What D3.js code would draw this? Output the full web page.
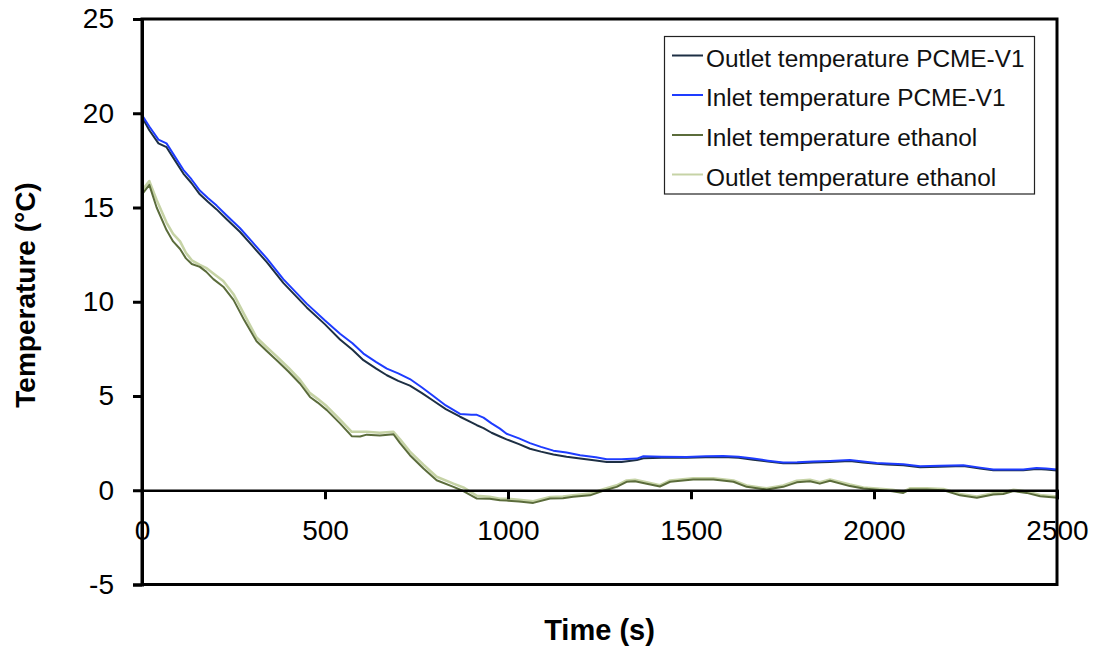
<!DOCTYPE html>
<html>
<head>
<meta charset="utf-8">
<script src="https://cdn.jsdelivr.net/npm/d3@7"></script>
<style>
  html, body { margin: 0; padding: 0; background: #fff; }
  svg { display: block; font-family: "Liberation Sans", Arial, sans-serif; }
</style>
</head>
<body>
<svg id="chart" width="1095" height="648"></svg>
<script>
// Sample times (s) for the PCME-V1 channels
const timePCME = [0, 20, 45, 67, 90, 113, 135, 158, 180, 204, 230, 268, 300, 341, 386, 450, 500, 541, 575, 605,
  640, 669, 700, 732, 765, 796, 830, 869, 900, 915, 933, 955, 978, 996, 1030, 1060, 1090, 1124, 1160, 1197,
  1240, 1270, 1310, 1352, 1370, 1420, 1488, 1540, 1588, 1630, 1670, 1710, 1752, 1790, 1834, 1880, 1934, 1970,
  2007, 2035, 2080, 2126, 2180, 2244, 2290, 2326, 2370, 2408, 2444, 2470, 2500];

const outletPCME = [19.8, 19.1, 18.4, 18.2, 17.5, 16.8, 16.3, 15.7, 15.3, 14.9, 14.4, 13.7, 13.0, 12.1, 11.0, 9.7, 8.8, 8.0, 7.45, 6.9,
  6.45, 6.1, 5.8, 5.55, 5.15, 4.75, 4.3, 3.9, 3.6, 3.45, 3.3, 3.05, 2.85, 2.7, 2.45, 2.2, 2.05, 1.9, 1.78, 1.68,
  1.58, 1.5, 1.5, 1.6, 1.7, 1.72, 1.72, 1.75, 1.77, 1.72, 1.62, 1.52, 1.43, 1.43, 1.47, 1.5, 1.55, 1.47,
  1.4, 1.37, 1.33, 1.22, 1.25, 1.28, 1.15, 1.06, 1.06, 1.06, 1.13, 1.1, 1.05];

const inletPCME = [19.9, 19.3, 18.6, 18.4, 17.7, 17.0, 16.5, 15.9, 15.5, 15.1, 14.6, 13.9, 13.2, 12.3, 11.2, 9.9, 9.0, 8.3, 7.8, 7.25,
  6.8, 6.45, 6.2, 5.9, 5.45, 5.0, 4.5, 4.05, 4.0, 4.0, 3.85, 3.55, 3.27, 3.0, 2.75, 2.5, 2.3, 2.1, 2.0, 1.86,
  1.75, 1.65, 1.65, 1.68, 1.8, 1.78, 1.77, 1.8, 1.82, 1.78, 1.68, 1.57, 1.47, 1.48, 1.52, 1.55, 1.6, 1.52,
  1.45, 1.42, 1.38, 1.27, 1.3, 1.33, 1.2, 1.1, 1.1, 1.1, 1.18, 1.15, 1.1];

// Sample times (s) for the ethanol channels
const timeEthanol = [0, 20, 40, 67, 85, 104, 120, 136, 158, 175, 195, 222, 250, 280, 313, 340, 368, 400, 432, 459,
  480, 505, 541, 573, 596, 614, 650, 687, 705, 732, 769, 805, 851, 878, 915, 950, 978, 996, 1030, 1069,
  1115, 1150, 1178, 1224, 1260, 1297, 1324, 1347, 1379, 1415, 1443, 1506, 1561, 1616, 1652, 1707, 1752, 1789,
  1825, 1852, 1880, 1934, 1971, 2016, 2050, 2080, 2098, 2144, 2190, 2235, 2281, 2326, 2353, 2381, 2417, 2454,
  2494, 2500];

const inletEthanol = [15.7, 16.2, 15.0, 13.8, 13.2, 12.8, 12.3, 12.0, 11.85, 11.6, 11.2, 10.8, 10.1, 9.0, 7.9, 7.4, 6.9, 6.3, 5.65, 4.95,
  4.65, 4.25, 3.55, 2.87, 2.85, 2.95, 2.9, 2.97, 2.5, 1.86, 1.15, 0.53, 0.18, -0.04, -0.44, -0.45, -0.53, -0.55, -0.6, -0.67,
  -0.44, -0.42, -0.35, -0.27, -0.03, 0.18, 0.45, 0.48, 0.35, 0.2, 0.45, 0.57, 0.57, 0.45, 0.18, 0.04, 0.18, 0.42,
  0.48, 0.35, 0.5, 0.22, 0.09, 0.02, -0.05, -0.14, 0.04, 0.04, 0.0, -0.27, -0.4, -0.23, -0.2, -0.04, -0.14, -0.32,
  -0.39, -0.4];

const outletEthanol = [15.9, 16.4, 15.4, 14.2, 13.6, 13.2, 12.6, 12.2, 11.95, 11.8, 11.5, 11.1, 10.4, 9.3, 8.1, 7.6, 7.1, 6.5, 5.85, 5.15,
  4.85, 4.45, 3.75, 3.1, 3.1, 3.1, 3.05, 3.1, 2.7, 2.05, 1.35, 0.72, 0.35, 0.15, -0.3, -0.35, -0.45, -0.45, -0.5, -0.58,
  -0.36, -0.33, -0.27, -0.18, 0.05, 0.26, 0.52, 0.55, 0.42, 0.27, 0.52, 0.64, 0.64, 0.52, 0.25, 0.1, 0.25, 0.5,
  0.55, 0.42, 0.57, 0.3, 0.15, 0.08, 0.02, -0.07, 0.1, 0.1, 0.06, -0.2, -0.33, -0.16, -0.13, 0.03, -0.07, -0.25,
  -0.32, -0.33];

const xTicks = [0, 500, 1000, 1500, 2000, 2500];
const yTicks = [-5, 0, 5, 10, 15, 20, 25];

const seriesNames = ["Outlet temperature PCME-V1", "Inlet temperature PCME-V1", "Inlet temperature ethanol", "Outlet temperature ethanol"];
const seriesColors = ["#1d2f44", "#1e3cff", "#5b6c3b", "#c6d3a6"];

const series = [
  { name: seriesNames[0], color: seriesColors[0], t: timePCME, v: outletPCME },
  { name: seriesNames[1], color: seriesColors[1], t: timePCME, v: inletPCME },
  { name: seriesNames[2], color: seriesColors[2], t: timeEthanol, v: inletEthanol },
  { name: seriesNames[3], color: seriesColors[3], t: timeEthanol, v: outletEthanol }
];

const svg = d3.select("#chart");
const plot = { left: 142, right: 1057, top: 19, bottom: 584.5 };

const x = d3.scaleLinear().domain([0, 2500]).range([plot.left, plot.right]);
const y = d3.scaleLinear().domain([-5, 25]).range([plot.bottom, plot.top]);

// Plain hyphen for negative tick values
const fmt = d => String(d);

// Data lines (pale ethanol outlet underneath so the darker inlet stays visible)
const line = d3.line().x(d => x(d[0])).y(d => y(d[1]));
const drawOrder = [3, 2, 0, 1];
drawOrder.forEach(i => {
  const s = series[i];
  svg.append("path")
    .datum(s.t.map((t, k) => [t, s.v[k]]))
    .attr("fill", "none")
    .attr("stroke", s.color)
    .attr("stroke-width", i === 3 ? 2.6 : 2)
    .attr("stroke-linejoin", "round")
    .attr("d", line);
});

// Plot frame
svg.append("rect")
  .attr("x", plot.left).attr("y", plot.top)
  .attr("width", plot.right - plot.left).attr("height", plot.bottom - plot.top)
  .attr("fill", "none").attr("stroke", "#000").attr("stroke-width", 3);

// Y axis: outward ticks with labels
const yAxis = d3.axisLeft(y).tickValues(yTicks).tickSize(9).tickPadding(19).tickFormat(fmt);
const gy = svg.append("g").attr("transform", `translate(${plot.left},0)`).call(yAxis);
gy.select(".domain").attr("stroke-width", 3);
gy.selectAll(".tick line").attr("stroke-width", 3);
gy.selectAll(".tick text").attr("font-size", 28).attr("fill", "#000")
  .attr("font-family", "'Liberation Sans', Arial, sans-serif");

// X axis drawn along the zero line, ticks pointing down
const xAxis = d3.axisBottom(x).tickValues(xTicks).tickSize(9).tickPadding(0).tickFormat(fmt);
const gx = svg.append("g").attr("transform", `translate(0,${y(0)})`).call(xAxis);
gx.select(".domain").attr("stroke-width", 2.5);
gx.selectAll(".tick line").attr("stroke-width", 3);
gx.selectAll(".tick text").attr("font-size", 28).attr("fill", "#000")
  .attr("font-family", "'Liberation Sans', Arial, sans-serif")
  .attr("dy", null).attr("y", 50);

// Axis titles
svg.append("text")
  .attr("x", (plot.left + plot.right) / 2).attr("y", 640)
  .attr("text-anchor", "middle")
  .attr("font-size", 29).attr("font-weight", "bold")
  .text("Time (s)");

svg.append("text")
  .attr("transform", "translate(35,295) rotate(-90)")
  .attr("text-anchor", "middle")
  .attr("font-size", 28).attr("font-weight", "bold")
  .text("Temperature (°C)");

// Legend
const legend = svg.append("g");
legend.append("rect")
  .attr("x", 664.5).attr("y", 36.5).attr("width", 370).attr("height", 157.5)
  .attr("fill", "#fff").attr("stroke", "#222").attr("stroke-width", 1.2);
const rowBase = [66.5, 106, 146, 185.5];
series.forEach((s, i) => {
  legend.append("line")
    .attr("x1", 672).attr("x2", 703)
    .attr("y1", rowBase[i] - 11).attr("y2", rowBase[i] - 11)
    .attr("stroke", s.color).attr("stroke-width", 2);
  legend.append("text")
    .attr("x", 706).attr("y", rowBase[i])
    .attr("font-size", 24.4).attr("fill", "#111")
    .text(s.name);
});
</script>
</body>
</html>
